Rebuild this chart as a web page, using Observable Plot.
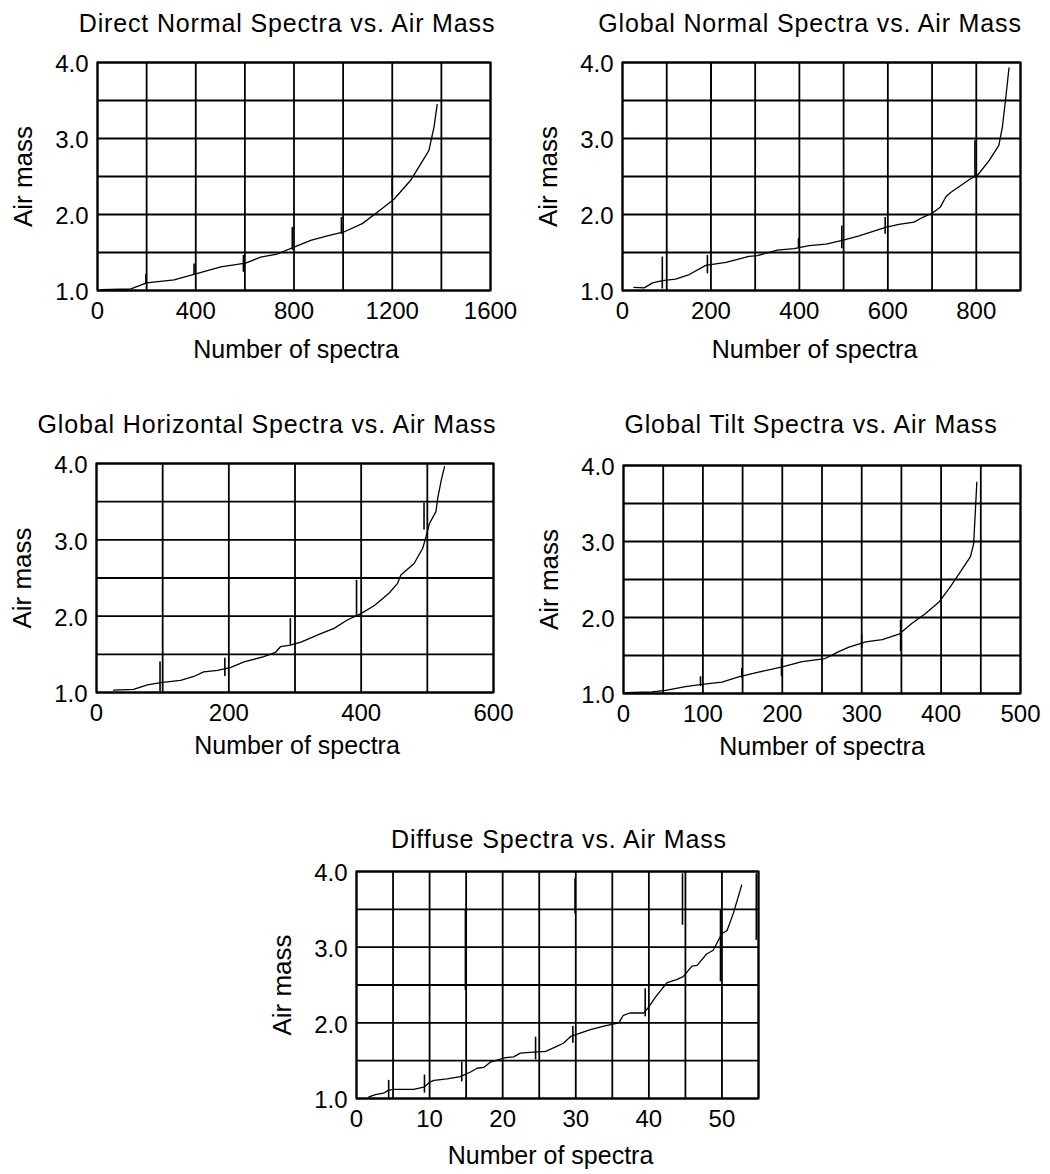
<!DOCTYPE html>
<html>
<head>
<meta charset="utf-8">
<script src="https://cdn.jsdelivr.net/npm/d3@7"></script>
<script src="https://cdn.jsdelivr.net/npm/@observablehq/plot@0.6"></script>
<style>
  body { margin: 0; background: white; }
  #root { position: relative; width: 1050px; height: 1174px; background: white; overflow: hidden; font-family: "Liberation Sans", Arial, sans-serif; }
  .panel { position: absolute; }
  .title { position: absolute; white-space: nowrap; font-size: 25px; line-height: 25px; letter-spacing: 0.85px; color: black; transform: translateX(-50%); }
</style>
</head>
<body>
<div id="root"></div>
<script>
// ---------- Data ----------
const yLabel = "Air mass";
const xLabel = "Number of spectra";
const yTicks = [1, 2, 3, 4];
const yGrid = [1, 1.5, 2, 2.5, 3, 3.5, 4];

// Panel 1: Direct Normal
const directTitle = "Direct Normal Spectra vs. Air Mass";
const directX = [14, 136, 200, 312, 400, 502, 603, 664, 732, 800, 868, 936, 1003, 1078, 1139, 1207, 1275, 1349, 1370, 1383];
const directY = [1.01, 1.02, 1.10, 1.14, 1.22, 1.31, 1.36, 1.44, 1.48, 1.57, 1.66, 1.72, 1.77, 1.88, 2.03, 2.20, 2.45, 2.84, 3.15, 3.45];
const directMarkX = [197, 393, 594, 793, 993, 1200];
const directMarkY1 = [1.09, 1.20, 1.24, 1.53, 1.74, 2.23];
const directMarkY2 = [1.21, 1.35, 1.46, 1.83, 1.96, 2.47];
const directTicks = [0, 400, 800, 1200, 1600];
const directGrid = [0, 200, 400, 600, 800, 1000, 1200, 1400, 1600];

// Panel 2: Global Normal
const normalTitle = "Global Normal Spectra vs. Air Mass";
const normalX = [26, 49, 68, 90, 120, 151, 188, 234, 286, 305, 350, 388, 422, 460, 497, 535, 595, 625, 659, 678, 701, 719, 731, 742, 787, 802, 829, 851, 859, 866, 874];
const normalY = [1.04, 1.035, 1.10, 1.13, 1.15, 1.21, 1.33, 1.37, 1.45, 1.46, 1.53, 1.55, 1.59, 1.61, 1.66, 1.72, 1.83, 1.87, 1.90, 1.96, 2.02, 2.10, 2.23, 2.29, 2.47, 2.51, 2.71, 2.91, 3.15, 3.50, 3.93];
const normalMarkX = [90, 192, 200, 398, 496, 594, 797];
const normalMarkY1 = [1.02, 1.22, 3.45, 1.55, 1.55, 1.74, 2.49];
const normalMarkY2 = [1.44, 1.46, 4.0, 1.68, 1.85, 1.96, 2.97];
const normalTicks = [0, 200, 400, 600, 800];
const normalGrid = [0, 100, 200, 300, 400, 500, 600, 700, 800, 900];

// Panel 3: Global Horizontal
const horizTitle = "Global Horizontal Spectra vs. Air Mass";
const horizX = [26, 56, 77, 97, 127, 147, 162, 183, 203, 223, 253, 271, 278, 293, 309, 339, 359, 379, 399, 420, 442, 455, 460, 480, 493, 498, 503, 513, 516, 521, 526];
const horizY = [1.03, 1.04, 1.10, 1.13, 1.16, 1.21, 1.27, 1.29, 1.33, 1.40, 1.47, 1.53, 1.60, 1.62, 1.66, 1.77, 1.84, 1.95, 2.03, 2.14, 2.30, 2.43, 2.54, 2.69, 2.89, 3.04, 3.21, 3.37, 3.56, 3.78, 3.96];
const horizMarkX = [96, 194, 293, 393, 495];
const horizMarkY1 = [1.01, 1.21, 1.62, 1.99, 3.13];
const horizMarkY2 = [1.40, 1.45, 1.97, 2.47, 3.48];
const horizTicks = [0, 200, 400, 600];
const horizGrid = [0, 100, 200, 300, 400, 500, 600];

// Panel 4: Global Tilt
const tiltTitle = "Global Tilt Spectra vs. Air Mass";
const tiltX = [2, 36, 53, 78, 99, 124, 145, 170, 200, 225, 254, 271, 284, 305, 326, 347, 363, 380, 397, 410, 423, 437, 441, 443, 445];
const tiltY = [1.01, 1.02, 1.04, 1.09, 1.12, 1.15, 1.22, 1.28, 1.35, 1.42, 1.46, 1.55, 1.61, 1.68, 1.71, 1.78, 1.92, 2.05, 2.20, 2.38, 2.58, 2.80, 2.97, 3.37, 3.78];
const tiltMarkX = [97, 149, 199, 300, 349, 400];
const tiltMarkY1 = [1.09, 1.20, 1.22, 1.59, 1.55, 2.20];
const tiltMarkY2 = [1.22, 1.33, 1.46, 1.77, 1.96, 2.49];
const tiltTicks = [0, 100, 200, 300, 400, 500];
const tiltGrid = [0, 50, 100, 150, 200, 250, 300, 350, 400, 450, 500];

// Panel 5: Diffuse
const diffuseTitle = "Diffuse Spectra vs. Air Mass";
const diffuseX = [1.7, 2.6, 3.7, 4.4, 5.1, 7.8, 9.2, 10.1, 10.6, 12.4, 14.2, 15.6, 16.5, 17.4, 18.3, 20.4, 21.5, 22.4, 25.1, 25.8, 27.4, 28.3, 29.3, 30.2, 32.0, 34.0, 35.9, 36.5, 37.4, 39.3, 40.0, 40.9, 41.8, 42.5, 43.8, 44.7, 45.9, 46.6, 47.9, 48.8, 50.0, 50.7, 51.6, 52.7];
const diffuseY = [1.02, 1.05, 1.07, 1.11, 1.12, 1.12, 1.15, 1.22, 1.24, 1.26, 1.29, 1.35, 1.40, 1.41, 1.48, 1.54, 1.55, 1.60, 1.62, 1.62, 1.69, 1.73, 1.82, 1.85, 1.91, 1.96, 2.00, 2.10, 2.13, 2.13, 2.21, 2.34, 2.45, 2.53, 2.57, 2.61, 2.75, 2.76, 2.91, 2.96, 3.18, 3.22, 3.46, 3.82];
const diffuseMarkX = [4.4, 9.3, 14.4, 14.9, 24.5, 29.6, 29.9, 39.5, 44.6, 49.8, 54.7];
const diffuseMarkY1 = [1.0, 1.07, 1.22, 2.43, 1.51, 1.73, 3.44, 2.08, 3.29, 2.54, 3.09];
const diffuseMarkY2 = [1.24, 1.31, 1.48, 3.49, 1.81, 1.95, 3.90, 2.45, 3.97, 3.49, 3.97];
const diffuseTicks = [0, 10, 20, 30, 40, 50];
const diffuseGrid = [0, 5, 10, 15, 20, 25, 30, 35, 40, 45, 50, 55];

// ---------- Layout ----------
const panels = [
  {title: directTitle, xs: directX, ys: directY, mx: directMarkX, my1: directMarkY1, my2: directMarkY2,
   ticks: directTicks, grid: directGrid, domain: [0, 1600],
   left: 0, top: 40, width: 525, height: 335, ml: 97, mr: 35, mt: 22, mb: 85,
   xlDy: 59, xlDx: 2, titleX: 287, titleBase: 32},
  {title: normalTitle, xs: normalX, ys: normalY, mx: normalMarkX, my1: normalMarkY1, my2: normalMarkY2,
   ticks: normalTicks, grid: normalGrid, domain: [0, 900],
   left: 525, top: 40, width: 525, height: 335, ml: 97, mr: 30, mt: 22, mb: 85,
   xlDy: 59, xlDx: -7, titleX: 810, titleBase: 32},
  {title: horizTitle, xs: horizX, ys: horizY, mx: horizMarkX, my1: horizMarkY1, my2: horizMarkY2,
   ticks: horizTicks, grid: horizGrid, domain: [0, 600],
   left: 0, top: 441, width: 525, height: 335, ml: 96, mr: 32, mt: 22, mb: 84,
   xlDy: 53, xlDx: 2, titleX: 267, titleBase: 433},
  {title: tiltTitle, xs: tiltX, ys: tiltY, mx: tiltMarkX, my1: tiltMarkY1, my2: tiltMarkY2,
   ticks: tiltTicks, grid: tiltGrid, domain: [0, 500],
   left: 525, top: 443, width: 525, height: 335, ml: 98, mr: 30, mt: 22, mb: 85,
   xlDy: 53, xlDx: 0, titleX: 811, titleBase: 433},
  {title: diffuseTitle, xs: diffuseX, ys: diffuseY, mx: diffuseMarkX, my1: diffuseMarkY1, my2: diffuseMarkY2,
   ticks: diffuseTicks, grid: diffuseGrid, domain: [0, 55],
   left: 260, top: 849, width: 525, height: 325, ml: 96, mr: 27, mt: 22, mb: 76,
   xlDy: 57, xlDx: -7, titleX: 559, titleBase: 848}
];

const root = document.getElementById("root");
const fmtY = d3.format(".1f");

for (const p of panels) {
  const curve = p.xs.map((x, i) => ({x, y: p.ys[i]}));
  const marks = p.mx.map((x, i) => ({x, y1: p.my1[i], y2: p.my2[i]}));
  const chart = Plot.plot({
    width: p.width,
    height: p.height,
    marginLeft: p.ml,
    marginRight: p.mr,
    marginTop: p.mt,
    marginBottom: p.mb,
    style: {fontFamily: "Liberation Sans, Arial, sans-serif", fontSize: "24px", background: "white", color: "black", overflow: "visible"},
    x: {domain: p.domain},
    y: {domain: [1, 4]},
    marks: [
      Plot.gridX(p.grid, {stroke: "black", strokeOpacity: 1, strokeWidth: 1.8}),
      Plot.gridY(yGrid, {stroke: "black", strokeOpacity: 1, strokeWidth: 1.8}),
      Plot.frame({stroke: "black", strokeWidth: 2}),
      Plot.axisX({ticks: p.ticks, tickSize: 0, tickPadding: 11, label: null, fontSize: 24, tickFormat: d => String(d)}),
      Plot.axisY({ticks: yTicks, tickSize: 0, tickPadding: 9, label: null, fontSize: 24, tickFormat: fmtY, dy: 2}),
      Plot.ruleX(marks, {x: "x", y1: "y1", y2: "y2", stroke: "black", strokeWidth: 1.6}),
      Plot.line(curve, {x: "x", y: "y", stroke: "black", strokeWidth: 1.3}),
      Plot.text([xLabel], {text: d => d, frameAnchor: "bottom", lineAnchor: "middle", textAnchor: "middle", dy: p.xlDy, dx: p.xlDx, fontSize: 25}),
      Plot.text([yLabel], {text: d => d, frameAnchor: "left", lineAnchor: "middle", textAnchor: "middle", dx: -74, rotate: -90, fontSize: 26})
    ]
  });
  const div = document.createElement("div");
  div.className = "panel";
  div.style.left = p.left + "px";
  div.style.top = p.top + "px";
  div.appendChild(chart);
  root.appendChild(div);

  const t = document.createElement("div");
  t.className = "title";
  t.textContent = p.title;
  t.style.left = p.titleX + "px";
  t.style.top = (p.titleBase - 21) + "px";
  root.appendChild(t);
}
</script>
</body>
</html>
